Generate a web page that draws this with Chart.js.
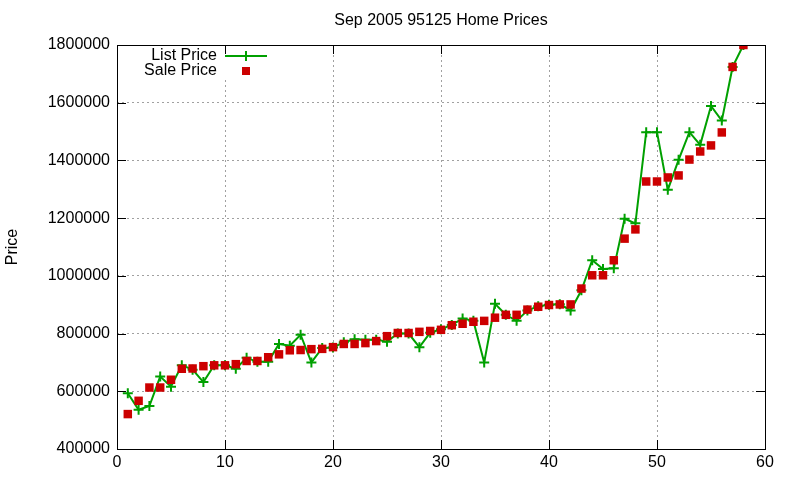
<!DOCTYPE html>
<html>
<head>
<meta charset="utf-8">
<script src="https://cdn.jsdelivr.net/npm/chart.js@4"></script>
<style>
  html, body { margin: 0; background: #fff; }
  #wrap { width: 800px; height: 480px; }
</style>
</head>
<body>
<div id="wrap"><canvas id="c"></canvas></div>
<script>
// Sep 2005 95125 home prices, list vs sale, by listing number
const homeIndex = [1, 2, 3, 4, 5, 6, 7, 8, 9, 10, 11, 12, 13, 14, 15, 16, 17, 18, 19, 20,
  21, 22, 23, 24, 25, 26, 27, 28, 29, 30, 31, 32, 33, 34, 35, 36, 37, 38, 39, 40,
  41, 42, 43, 44, 45, 46, 47, 48, 49, 50, 51, 52, 53, 54, 55, 56, 57, 58];
const listPrice = [593000, 536000, 549000, 651000, 616000, 690000, 675000, 632000, 690000, 690000,
  678000, 716000, 702000, 702000, 764000, 758000, 796000, 700000, 750000, 752000,
  770000, 780000, 779000, 779000, 772000, 800000, 800000, 753000, 803000, 815000,
  830000, 852000, 844000, 700000, 903000, 865000, 844000, 880000, 895000, 900000,
  902000, 880000, 950000, 1054000, 1024000, 1026000, 1198000, 1182000, 1498000, 1498000,
  1298000, 1402000, 1498000, 1454000, 1589000, 1538000, 1724000, 1800000];
const salePrice = [521000, 567000, 613000, 613000, 640000, 678000, 679000, 687000, 690000, 690000,
  694000, 705000, 705000, 718000, 728000, 742000, 743000, 746000, 747000, 753000,
  764000, 764000, 767000, 774000, 791000, 802000, 802000, 806000, 809000, 813000,
  829000, 834000, 841000, 844000, 855000, 865000, 865000, 883000, 893000, 899000,
  901000, 901000, 956000, 1002000, 1002000, 1054000, 1129000, 1161000, 1327000, 1327000,
  1341000, 1348000, 1403000, 1431000, 1452000, 1497000, 1724000, 1800000];
const xTicks = [0, 10, 20, 30, 40, 50, 60];
const yTicks = [400000, 600000, 800000, 1000000, 1200000, 1400000, 1600000, 1800000];

const GREEN = '#00a000';
const RED = '#cc0000';
const FONT = '"Liberation Sans", Arial, sans-serif';

// gnuplot-ish frame, inward ticks, title, key
const gnuplotDecor = {
  id: 'gnuplotDecor',
  beforeDatasetsDraw(chart) {
    const ctx = chart.ctx;
    // key box is opaque over the grid
    ctx.save();
    ctx.fillStyle = '#fff';
    ctx.fillRect(140, 47, 134, 33);
    ctx.restore();
  },
  afterDraw(chart) {
    const ctx = chart.ctx;
    const a = chart.chartArea;
    const xs = chart.scales.x, ys = chart.scales.y;
    ctx.save();
    ctx.strokeStyle = '#000';
    ctx.lineWidth = 1;
    ctx.strokeRect(Math.round(a.left) + 0.5, Math.round(a.top) + 0.5,
      Math.round(a.right - a.left), Math.round(a.bottom - a.top));
    const tl = 9;
    ctx.beginPath();
    yTicks.forEach(v => {
      const y = Math.round(ys.getPixelForValue(v)) + 0.5;
      ctx.moveTo(a.left, y); ctx.lineTo(a.left + tl, y);
      ctx.moveTo(a.right, y); ctx.lineTo(a.right - tl, y);
    });
    xTicks.forEach(v => {
      const x = Math.round(xs.getPixelForValue(v)) + 0.5;
      ctx.moveTo(x, a.bottom); ctx.lineTo(x, a.bottom - tl);
      ctx.moveTo(x, a.top); ctx.lineTo(x, a.top + tl);
    });
    ctx.stroke();

    ctx.fillStyle = '#000';
    ctx.font = '16px ' + FONT;
    ctx.textBaseline = 'middle';
    ctx.textAlign = 'center';
    ctx.fillText('Sep 2005 95125 Home Prices', (a.left + a.right) / 2, 21);

    ctx.save();
    ctx.translate(13, (a.top + a.bottom) / 2);
    ctx.rotate(-Math.PI / 2);
    ctx.fillText('Price', 0, 0);
    ctx.restore();

    // key
    ctx.textAlign = 'right';
    ctx.fillText(chart.data.datasets[0].label, 217, 56);
    ctx.fillText(chart.data.datasets[1].label, 217, 71);
    ctx.strokeStyle = GREEN;
    ctx.lineWidth = 2;
    ctx.beginPath();
    ctx.moveTo(225, 56); ctx.lineTo(267, 56);
    ctx.moveTo(246, 51); ctx.lineTo(246, 61);
    ctx.stroke();
    ctx.fillStyle = RED;
    ctx.fillRect(242, 67, 8, 8);
    ctx.restore();
  }
};

new Chart(document.getElementById('c'), {
  type: 'line',
  data: {
    datasets: [{
      label: 'List Price',
      order: 1,
      data: homeIndex.map((x, i) => ({ x: x, y: listPrice[i] })),
      borderColor: GREEN,
      backgroundColor: GREEN,
      borderWidth: 2,
      tension: 0,
      pointStyle: 'cross',
      pointRadius: 5,
      pointBorderWidth: 2,
      pointHoverRadius: 5,
      fill: false
    }, {
      label: 'Sale Price',
      order: 0,
      data: homeIndex.map((x, i) => ({ x: x, y: salePrice[i] })),
      showLine: false,
      borderColor: RED,
      backgroundColor: RED,
      pointStyle: 'rect',
      pointRadius: 6,
      pointBorderWidth: 0,
      pointHoverRadius: 6
    }]
  },
  options: {
    responsive: true,
    maintainAspectRatio: false,
    animation: false,
    layout: { padding: { top: 45, right: 35, left: 0, bottom: 0 } },
    plugins: {
      legend: { display: false },
      title: { display: false },
      tooltip: { enabled: false }
    },
    scales: {
      x: {
        type: 'linear',
        min: 0, max: 60,
        afterFit: s => { s.height = 31; },
        afterBuildTicks: s => { s.ticks = xTicks.map(v => ({ value: v })); },
        ticks: { color: '#000', font: { size: 16, family: FONT }, padding: 4, maxRotation: 0 },
        grid: { color: '#a0a0a0', drawTicks: false, lineWidth: 1 },
        border: { display: false, dash: [2, 3] }
      },
      y: {
        min: 400000, max: 1800000,
        afterFit: s => { s.width = 117; },
        afterBuildTicks: s => { s.ticks = yTicks.map(v => ({ value: v })); },
        ticks: { color: '#000', font: { size: 16, family: FONT }, padding: 7, callback: v => String(v) },
        grid: { color: '#a0a0a0', drawTicks: false, lineWidth: 1 },
        border: { display: false, dash: [2, 3] }
      }
    }
  },
  plugins: [gnuplotDecor]
});
</script>
</body>
</html>
